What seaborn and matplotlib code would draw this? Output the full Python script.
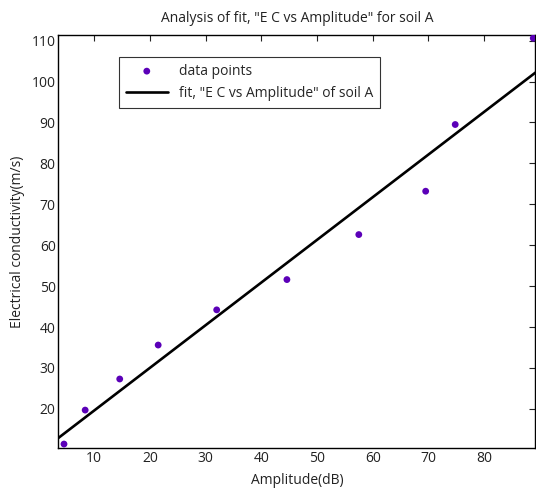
import numpy as np
import pandas as pd
import matplotlib
matplotlib.use("Agg")
import matplotlib.pyplot as plt
import seaborn as sns

amplitude = [4.6, 8.4, 14.6, 21.5, 32.0, 44.6, 57.5, 69.5, 74.8, 88.8]
conductivity = [11.4, 19.7, 27.3, 35.6, 44.2, 51.6, 62.6, 73.2, 89.5, 110.6]
x_ticks = [10, 20, 30, 40, 50, 60, 70, 80]
y_ticks = [20, 30, 40, 50, 60, 70, 80, 90, 100, 110]

sns.set_style("white")
plt.rcParams['font.family'] = ['Open Sans', 'DejaVu Sans']

df = pd.DataFrame({"Amplitude": amplitude, "EC": conductivity})
slope, intercept = np.polyfit(df["Amplitude"], df["EC"], 1)
xlim = (3.6, 89.2)
fit_x = np.array(xlim)
fit_df = pd.DataFrame({"Amplitude": fit_x, "EC": slope * fit_x + intercept})

fig = plt.figure(figsize=(5.36, 4.93), dpi=100)
ax = fig.add_axes([0.109, 0.091, 0.890, 0.839])

sns.scatterplot(data=df, x="Amplitude", y="EC", ax=ax, color="#5b00b8",
                s=24, edgecolor="none", label="data points", zorder=3)
sns.lineplot(data=fit_df, x="Amplitude", y="EC", ax=ax, color="black",
             linewidth=1.9, label='fit, "E C vs Amplitude" of soil A')

ax.set_xlim(*xlim)
ax.set_ylim(10.4, 111.5)
ax.set_xticks(x_ticks)
ax.set_yticks(y_ticks)
ax.tick_params(direction="in", length=4, width=0.8, top=True, right=True,
               labelsize=10, colors="#222222", pad=2)
for sp in ax.spines.values():
    sp.set_color("black")
    sp.set_linewidth(1.0)

ax.set_xlabel("Amplitude(dB)", fontsize=10, labelpad=5, color="#222222")
ax.set_ylabel("Electrical conductivity(m/s)", fontsize=10, color="#222222")
ax.yaxis.set_label_coords(-0.071, 0.5)
ax.set_title('Analysis of fit, "E C vs Amplitude" for soil A', fontsize=10, pad=9,
             color="#222222")

leg = ax.legend(loc="upper left", bbox_to_anchor=(0.127, 0.946), borderaxespad=0,
                fontsize=10, frameon=True, fancybox=False, edgecolor="black",
                borderpad=0.5, handlelength=3.0, labelspacing=0.5)
leg.get_frame().set_linewidth(0.8)

fig.savefig("out.png", dpi=100)
